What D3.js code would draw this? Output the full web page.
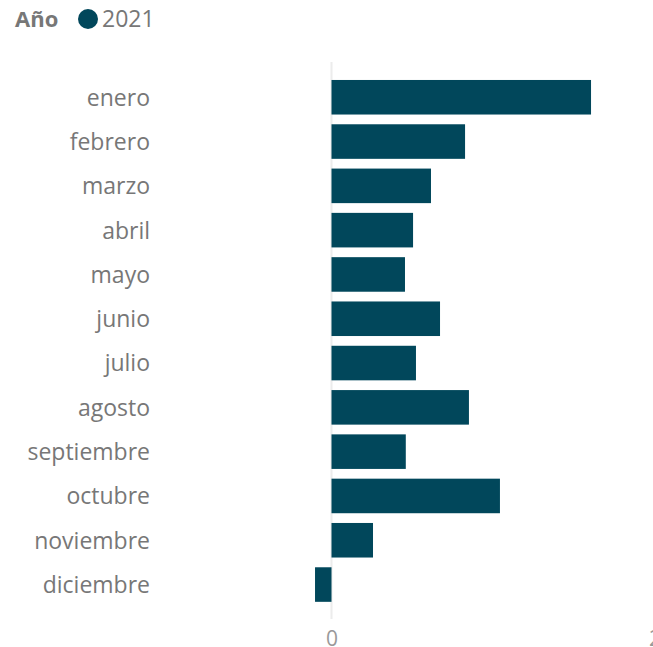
<!DOCTYPE html>
<html>
<head>
	<meta charset="utf-8" />
	<script src="https://d3js.org/d3.v7.min.js"></script>
	<style>
		body { margin: 0; background: #fff; }
		text { font-family: "Open Sans", "Noto Sans", sans-serif; }
	</style>
</head>
<body>
	<div id="chart"></div>
	<script>
		// Datos
		var meses = ["enero", "febrero", "marzo", "abril", "mayo", "junio", "julio",
			"agosto", "septiembre", "octubre", "noviembre", "diciembre"];
		var valores2021 = [1.607, 0.827, 0.616, 0.505, 0.455, 0.672, 0.523,
			0.851, 0.46, 1.043, 0.257, -0.102];
		var ticksX = [0, 2];
		var serie = "2021";
		var tituloLeyenda = "Año";

		var width = 653, height = 647;
		var color = "#01475B";

		var svg = d3.select("#chart").append("svg")
			.attr("width", width)
			.attr("height", height);

		var x = d3.scaleLinear()
			.domain([0, 2])
			.range([331.5, 654.5]);

		var y = d3.scaleBand()
			.domain(meses)
			.range([75.1, 606.7])
			.paddingInner(0.22)
			.paddingOuter(0.11);

		// linea del cero
		svg.append("line")
			.attr("x1", x(0)).attr("x2", x(0))
			.attr("y1", 62).attr("y2", 619)
			.attr("stroke", "#ececec")
			.attr("stroke-width", 2);

		// barras
		svg.selectAll(".bar")
			.data(valores2021)
			.enter().append("rect")
			.attr("class", "bar")
			.attr("x", function (d) { return x(Math.min(0, d)); })
			.attr("y", function (d, i) { return y(meses[i]); })
			.attr("width", function (d) { return Math.abs(x(d) - x(0)); })
			.attr("height", y.bandwidth())
			.attr("fill", color);

		// etiquetas del eje y
		var yAxis = svg.append("g")
			.attr("transform", "translate(150,1)")
			.call(d3.axisLeft(y).tickSize(0).tickPadding(0));
		yAxis.select(".domain").remove();
		yAxis.selectAll("text")
			.attr("fill", "#777")
			.style("font-size", "23px");

		// eje x
		var xAxis = svg.append("g")
			.attr("transform", "translate(0,631)")
			.call(d3.axisBottom(x).tickValues(ticksX).tickFormat(d3.format("d")).tickSize(0).tickPadding(0));
		xAxis.select(".domain").remove();
		xAxis.selectAll("text")
			.attr("fill", "#999")
			.attr("dy", "0.71em")
			.style("font-size", "21px");

		// leyenda
		svg.append("text")
			.attr("x", 15).attr("y", 27)
			.attr("fill", "#777")
			.style("font-size", "22px")
			.style("font-weight", "bold")
			.text(tituloLeyenda);
		svg.append("circle")
			.attr("cx", 88).attr("cy", 19).attr("r", 10)
			.attr("fill", color);
		svg.append("text")
			.attr("x", 102).attr("y", 27)
			.attr("fill", "#777")
			.style("font-size", "23px")
			.text(serie);
	</script>
</body>
</html>
